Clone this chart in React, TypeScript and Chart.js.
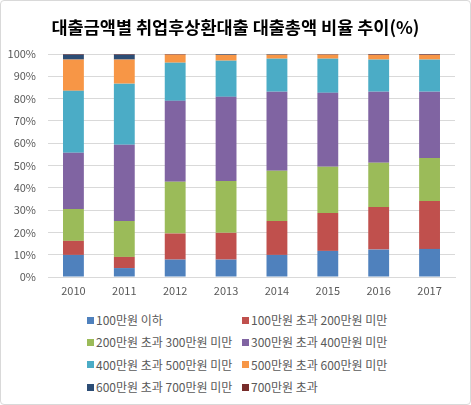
import React, { useEffect, useRef } from "react";
import { Chart, registerables } from "chart.js";

Chart.register(...registerables);

const title = "대출금액별 취업후상환대출 대출총액 비율 추이(%)";
const categories = ["2010", "2011", "2012", "2013", "2014", "2015", "2016", "2017"];
const seriesNames = [
  "100만원 이하",
  "100만원 초과 200만원 미만",
  "200만원 초과 300만원 미만",
  "300만원 초과 400만원 미만",
  "400만원 초과 500만원 미만",
  "500만원 초과 600만원 미만",
  "600만원 초과 700만원 미만",
  "700만원 초과",
];
const s100 = [9.9, 4.0, 7.8, 7.8, 9.9, 11.7, 12.3, 12.6];
const s100to200 = [6.3, 5.0, 11.7, 12.0, 15.2, 17.0, 19.1, 21.5];
const s200to300 = [14.3, 16.1, 23.2, 23.3, 22.5, 20.7, 19.8, 19.3];
const s300to400 = [25.2, 34.2, 36.3, 37.7, 35.5, 33.2, 31.9, 29.7];
const s400to500 = [27.8, 27.4, 17.1, 16.2, 14.8, 15.3, 14.4, 14.4];
const s500to600 = [14.0, 10.8, 3.6, 2.6, 1.8, 1.8, 2.1, 2.1];
const s600to700 = [2.2, 2.2, 0.05, 0.3, 0.3, 0.1, 0.1, 0.1];
const s700 = [0.3, 0.3, 0.3, 0.1, 0.0, 0.3, 0.3, 0.3];
const seriesValues = [s100, s100to200, s200to300, s300to400, s400to500, s500to600, s600to700, s700];
const colors = ["#4F81BD", "#C0504D", "#9BBB59", "#8064A2", "#4BACC6", "#F79646", "#2C4D75", "#772C2A"];

const FONT = "'Noto Sans CJK KR', 'Noto Sans', sans-serif";

export default function App() {
  const ref = useRef<HTMLCanvasElement | null>(null);

  useEffect(() => {
    if (!ref.current) return;
    const chart = new Chart(ref.current, {
      type: "bar",
      data: {
        labels: categories,
        datasets: seriesNames.map((name, i) => ({
          label: name,
          data: seriesValues[i],
          backgroundColor: colors[i],
          borderWidth: 0,
          barPercentage: 0.41,
          categoryPercentage: 1,
        })),
      },
      options: {
        responsive: false,
        animation: false,
        layout: { padding: { left: 0, right: 0, top: 0, bottom: 0 } },
        plugins: {
          legend: { display: false },
          tooltip: { enabled: false },
          title: {
            display: true,
            text: title,
            color: "#000",
            font: { family: FONT, size: 17.5, weight: "bold" },
            padding: { top: 17, bottom: 16 },
          },
        },
        scales: {
          x: {
            stacked: true,
            grid: { display: false, drawTicks: false },
            border: { display: true, color: "#d9d9d9", width: 1 },
            ticks: { color: "#595959", font: { family: FONT, size: 11 }, padding: 7 },
            afterFit: (s: any) => {
              s.height = 23;
            },
          },
          y: {
            stacked: true,
            min: 0,
            max: 100,
            grid: { color: "#d9d9d9", drawTicks: false, lineWidth: 1 },
            border: { display: false },
            ticks: {
              stepSize: 10,
              color: "#595959",
              font: { family: FONT, size: 11 },
              padding: 12,
              callback: (v: any) => v + "%",
            },
            afterFit: (s: any) => {
              s.width = 48;
            },
          },
          yRight: {
            position: "right",
            display: true,
            min: 0,
            max: 100,
            grid: { display: false, drawTicks: false },
            border: { display: false },
            ticks: { display: false },
            afterFit: (s: any) => {
              s.width = 16;
            },
          },
        },
      },
    });
    return () => chart.destroy();
  }, []);

  return (
    <div style={{ position: "fixed", left: 0, top: 0, width: 471, height: 405, background: "#fff", fontFamily: FONT }}>
      <div
        style={{
          position: "absolute",
          left: 0,
          top: 0,
          width: 471,
          height: 405,
          boxSizing: "border-box",
          border: "1px solid #d9d9d9",
          borderRadius: 4,
        }}
      />
      <canvas ref={ref} width={471} height={300} style={{ position: "absolute", left: 0, top: 0, width: 471, height: 300 }} />
      {seriesNames.map((name, i) => {
        const col = i % 2;
        const row = Math.floor(i / 2);
        return (
          <div
            key={name}
            style={{
              position: "absolute",
              left: col ? 242 : 87,
              top: 320 + 22.4 * row - 9,
              height: 18,
              lineHeight: "18px",
              fontSize: 12,
              color: "#595959",
              whiteSpace: "nowrap",
              display: "flex",
              alignItems: "center",
            }}
          >
            <span style={{ display: "inline-block", width: 7, height: 7, background: colors[i], marginRight: 2 }} />
            <span>{name}</span>
          </div>
        );
      })}
    </div>
  );
}
